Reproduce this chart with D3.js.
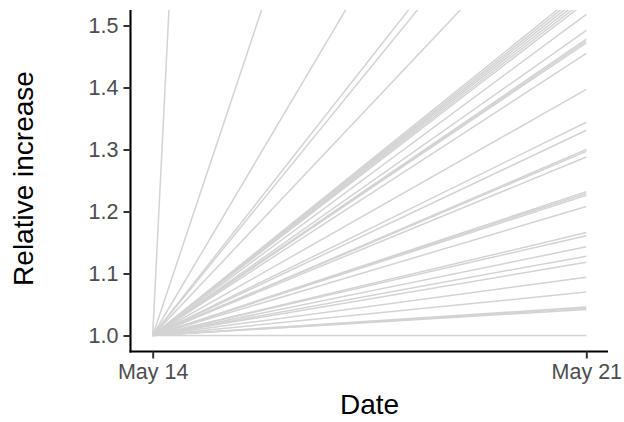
<!DOCTYPE html>
<html>
<head>
<meta charset="utf-8">
<script src="https://cdn.jsdelivr.net/npm/d3@7"></script>
<style>
  html, body { margin: 0; padding: 0; background: #ffffff; }
  svg { display: block; font-family: "Liberation Sans", Arial, Helvetica, sans-serif; }
</style>
</head>
<body>
<svg id="chart" width="624" height="422"></svg>
<script>
// ---- data ----
const startDate = "2020-05-14";
const endDate = "2020-05-21";
const startValue = 1.0;
// relative increase reached on May 21, one entry per line
const endValues = [
  15.0, 3.09, 2.18, 1.89, 1.86, 1.74,
  1.563, 1.558, 1.553, 1.548, 1.543, 1.538,
  1.518, 1.492, 1.478, 1.475, 1.472, 1.455, 1.397,
  1.344, 1.331, 1.300, 1.297, 1.288,
  1.232, 1.229, 1.226, 1.208,
  1.166, 1.161, 1.143, 1.128, 1.118, 1.094, 1.070,
  1.046, 1.044, 1.042, 1.000
];
const yTicks = [1.0, 1.1, 1.2, 1.3, 1.4, 1.5];
const xTickLabels = ["May 14", "May 21"];
const xTitle = "Date";
const yTitle = "Relative increase";

// ---- layout ----
const svg = d3.select("#chart");
const pL = 131, pR = 608, pT = 10, pB = 351;

const parse = d3.utcParse("%Y-%m-%d");
const d0 = parse(startDate), d1 = parse(endDate);
const span = d1 - d0;
const x = d3.scaleUtc()
  .domain([new Date(+d0 - span * 0.05), new Date(+d1 + span * 0.05)])
  .range([pL, pR]);
const y = d3.scaleLinear().domain([0.975, 1.525]).range([pB, pT]);

const series = endValues.map(v => [
  { date: d0, value: startValue },
  { date: d1, value: v }
]);

svg.append("defs").append("clipPath").attr("id", "panel")
  .append("rect")
  .attr("x", pL).attr("y", pT)
  .attr("width", pR - pL).attr("height", pB - pT);

const line = d3.line().x(d => x(d.date)).y(d => y(d.value));

svg.append("g").attr("clip-path", "url(#panel)")
  .selectAll("path").data(series).join("path")
  .attr("d", line)
  .attr("fill", "none")
  .attr("stroke", "#d3d3d3")
  .attr("stroke-width", 1.5);

// axes
const yAxis = d3.axisLeft(y).tickValues(yTicks).tickFormat(d3.format(".1f"))
  .tickSize(7).tickSizeOuter(0).tickPadding(5);
const gy = svg.append("g").attr("transform", `translate(${pL - 0.5},0)`).call(yAxis);

const xAxis = d3.axisBottom(x).tickValues([d0, d1])
  .tickFormat((d, i) => xTickLabels[i])
  .tickSize(7).tickSizeOuter(0).tickPadding(5);
const gx = svg.append("g").attr("transform", `translate(0,${pB + 0.5})`).call(xAxis);

[gx, gy].forEach(g => {
  g.select(".domain").attr("stroke", "#000").attr("stroke-width", 2.1);
  g.selectAll(".tick line").attr("stroke", "#333").attr("stroke-width", 2);
  g.selectAll(".tick text").attr("fill", "#4d4d4d")
    .style("font-size", "21.5px")
    .style("font-family", "'Liberation Sans', Arial, sans-serif");
});
// make the two axis lines meet at the corner
gx.select(".domain").attr("d", `M${pL - 1.55},0H${pR}`);
gy.select(".domain").attr("d", `M0,${pT}V${pB + 1.55}`);

svg.append("text")
  .attr("x", (pL + pR) / 2).attr("y", 414)
  .attr("text-anchor", "middle")
  .attr("fill", "#000")
  .style("font-size", "28px")
  .text(xTitle);

svg.append("text")
  .attr("transform", `translate(33,${(pT + pB) / 2 - 2}) rotate(-90)`)
  .attr("text-anchor", "middle")
  .attr("fill", "#000")
  .style("font-size", "28px")
  .text(yTitle);
</script>
</body>
</html>
